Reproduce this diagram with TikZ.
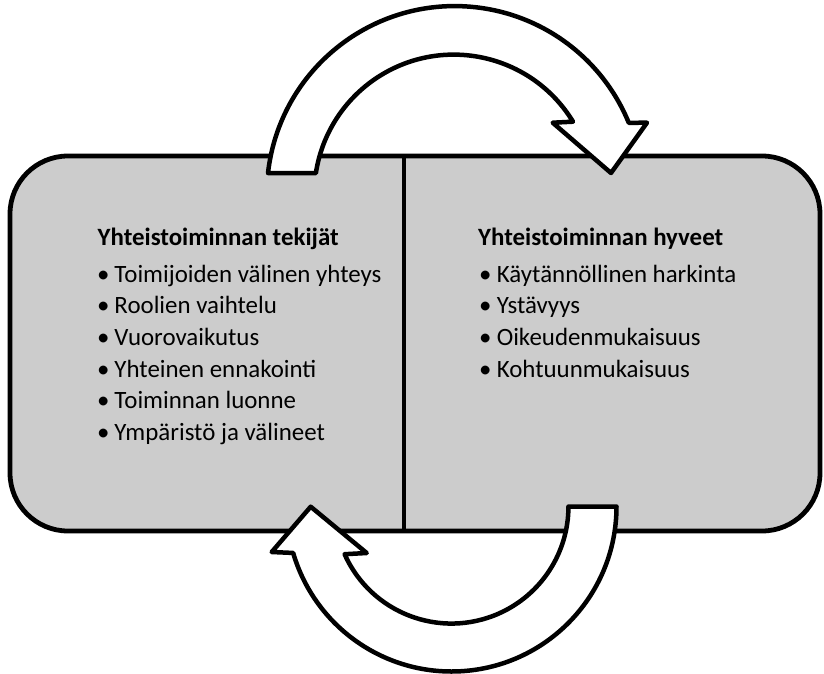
\documentclass[tikz,border=0pt]{standalone}
\usepackage{fontspec}
\setmainfont{Carlito}
\definecolor{panelgray}{RGB}{204,204,204}
\begin{document}
\begin{tikzpicture}[x=1pt, y=1pt, yscale=-1,
  panel/.style={draw=black, line width=4.8pt, fill=panelgray,
    rounded corners=58pt, minimum width=810pt, minimum height=375pt,
    inner sep=0pt, outer sep=0pt},
  divider/.style={draw=black, line width=4pt},
  bigarrow/.style={draw=black, fill=white, line width=4.5pt, line join=round},
  heading/.style={anchor=base west, inner sep=0pt,
    font=\fontsize{24.9}{30}\selectfont\bfseries},
  item/.style={anchor=base west, inner sep=0pt,
    font=\fontsize{24.9}{30}\selectfont},
]
\useasboundingbox (0,0) rectangle (824,674);

% grey panel split into two columns
\node[panel] (panel) at (415,343.5) {};
\coordinate (dtop) at (404,156);
\coordinate (dbot) at (404,531);
\draw[divider] (dtop) -- (dbot);

% upper curved arrow, left column -> right column
\draw[bigarrow] (268,173)
  arc[start angle=186.44, end angle=337.72, radius=188]
  -- (647,122.7) -- (611,173) -- (552.7,122.7) -- (573,121.7)
  arc[start angle=328.72, end angle=188.66, radius=139.5] -- cycle;

% lower curved arrow, right column -> left column
\draw[bigarrow] (616.5,506.5)
  arc[start angle=0, end angle=163.65, radius=165]
  -- (271.7,552) -- (310.7,506.7) -- (366.7,553) -- (344.6,554.2)
  arc[start angle=155.96, end angle=0, radius=117] -- cycle;

% left column
\node[heading] (lhead) at (97.5,245) {Yhteistoiminnan tekijät};
\foreach \t [count=\i from 0] in {Toimijoiden välinen yhteys, Roolien vaihtelu,
    Vuorovaikutus, Yhteinen ennakointi, Toiminnan luonne, Ympäristö ja välineet}
  \node[item] (l\i) at (97, 282.3+31.67*\i) {\makebox[17.3pt][l]{•}\t};

% right column
\node[heading] (rhead) at (478,245) {Yhteistoiminnan hyveet};
\foreach \t [count=\i from 0] in {Käytännöllinen harkinta, Ystävyys,
    Oikeudenmukaisuus, Kohtuunmukaisuus}
  \node[item] (r\i) at (479, 282.3+31.67*\i) {\makebox[17.6pt][l]{•}\t};
\end{tikzpicture}
\end{document}
